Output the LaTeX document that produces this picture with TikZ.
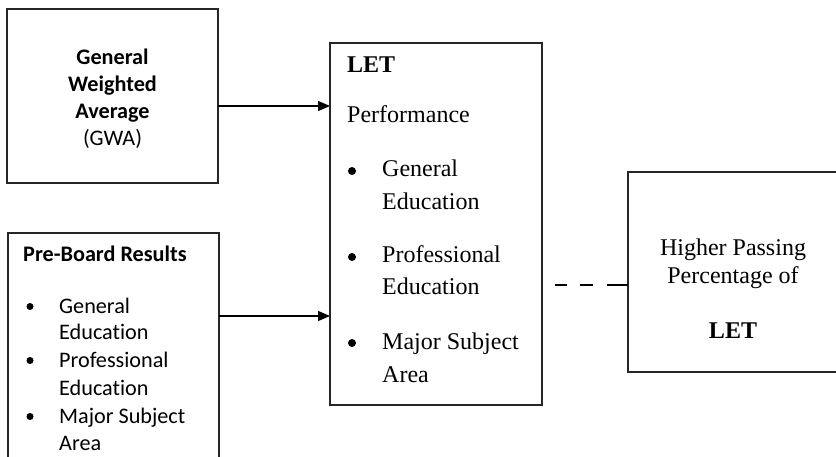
\documentclass[tikz,border=0pt]{standalone}
\usepackage{fontspec}
\newfontfamily\carlito[Ligatures=NoCommon]{Carlito}
\newfontfamily\tnr{Liberation Serif}
\usetikzlibrary{arrows.meta}
\tikzset{
  boxst/.style={draw=black!85, line width=1.3pt, inner sep=0pt, outer sep=0pt},
  sanst/.style={inner sep=0pt, font=\carlito\fontsize{22.2}{27}\selectfont},
  serst/.style={inner sep=0pt, font=\tnr\fontsize{24}{30}\selectfont},
  bul/.style={circle, fill=black, inner sep=0pt, minimum size=7pt},
  bulb/.style={circle, fill=black, inner sep=0pt, minimum size=8pt},
  arr/.style={line width=1.2pt, -{Triangle[length=12pt,width=10pt]}},
  dsh/.style={line width=1.2pt, dash pattern=on 0pt off 13pt on 12pt off 13pt on 13pt off 14pt on 30pt}
}
\begin{document}
\begin{tikzpicture}[x=1pt,y=-1pt]
\useasboundingbox (0,0) rectangle (836,457);
\clip (0,0) rectangle (836,457);
\fill[white] (0,0) rectangle (836,457);
% boxes
\node[boxst, minimum width=211pt, minimum height=174pt] (gwa) at (112.5,96) {};
\node[boxst, minimum width=211pt, minimum height=247pt] (pre) at (113.5,356.5) {};
\node[boxst, minimum width=212pt, minimum height=362pt] (let) at (436,224) {};
\node[boxst, minimum width=222pt, minimum height=200pt] (res) at (739,272) {};
% GWA text
\node[sanst, anchor=base] (g1) at (112.5,65) {\bfseries General};
\node[sanst, anchor=base] (g2) at (112.5,92) {\bfseries Weighted};
\node[sanst, anchor=base] (g3) at (112.5,119) {\bfseries Average};
\node[sanst, anchor=base] (g4) at (112.5,146) {(GWA)};
% Pre-board text
\node[sanst, anchor=base west] (p0) at (23,262) {\bfseries Pre-Board Results};
\node[bul] (pb1) at (30,306.5) {};
\node[sanst, anchor=base west] (p1) at (59,313) {General};
\node[sanst, anchor=base west] (p2) at (59,340) {Education};
\node[bul] (pb2) at (30,360.5) {};
\node[sanst, anchor=base west] (p3) at (59,367) {Professional};
\node[sanst, anchor=base west] (p4) at (59,395) {Education};
\node[bul] (pb3) at (30,416.5) {};
\node[sanst, anchor=base west] (p5) at (59,423) {Major Subject};
\node[sanst, anchor=base west] (p6) at (59,450) {Area};
% LET text
\node[serst, anchor=base west] (l0) at (347,73) {\bfseries LET};
\node[serst, anchor=base west] (l1) at (347,123) {Performance};
\node[bulb] (lb1) at (352,171) {};
\node[serst, anchor=base west] (l2) at (382,177) {General};
\node[serst, anchor=base west] (l3) at (382,210) {Education};
\node[bulb] (lb2) at (352,257) {};
\node[serst, anchor=base west] (l4) at (382,263) {Professional};
\node[serst, anchor=base west] (l5) at (382,295) {Education};
\node[bulb] (lb3) at (352,343) {};
\node[serst, anchor=base west] (l6) at (382,349) {Major Subject};
\node[serst, anchor=base west] (l7) at (382,382) {Area};
% result text
\node[serst, anchor=base] (r1) at (733,256) {Higher Passing};
\node[serst, anchor=base] (r2) at (733,284) {Percentage of};
\node[serst, anchor=base] (r3) at (733,338) {\bfseries LET};
% connectors
\draw[arr] ([yshift=-10pt]gwa.east) -- ([yshift=-10pt]gwa.east -| let.west);
\draw[arr] ([yshift=40.5pt]pre.east) -- ([yshift=40.5pt]pre.east -| let.west);
\draw[dsh] ([yshift=-13pt]res.west -| let.east) -- ([yshift=-13pt]res.west);
\end{tikzpicture}
\end{document}
